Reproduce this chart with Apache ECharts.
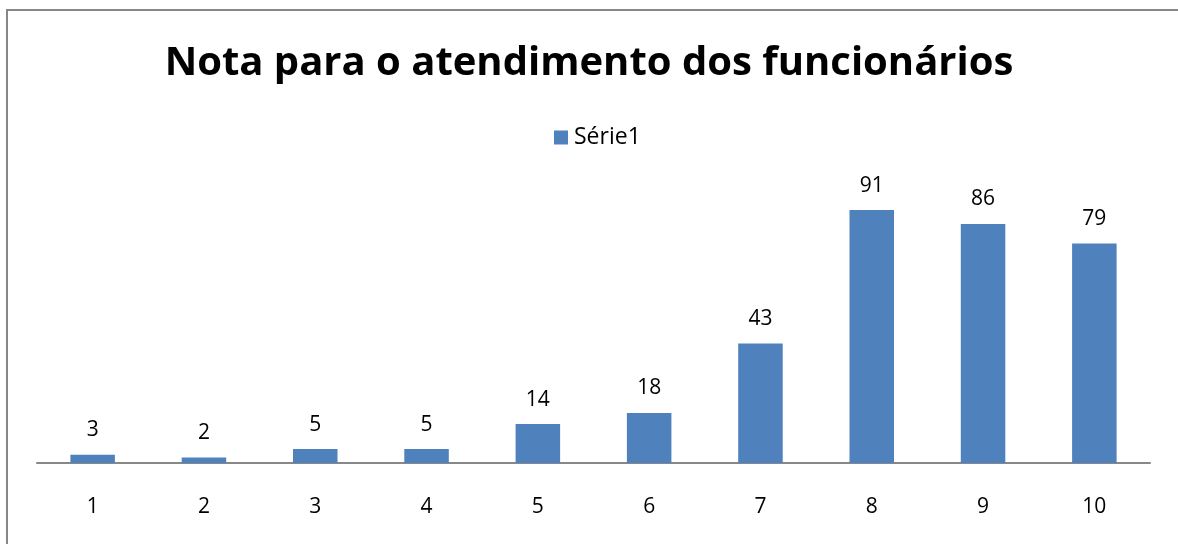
<!DOCTYPE html>
<html><head><meta charset="utf-8">
<script src="https://cdn.jsdelivr.net/npm/echarts@6/dist/echarts.min.js"></script>
<style>html,body{margin:0;padding:0;background:#fff}#c{width:1178px;height:544px}</style>
</head><body><div id="c"></div>
<script>
const titleText = 'Nota para o atendimento dos funcionários';
const seriesName = 'Série1';
const categories = ['1','2','3','4','5','6','7','8','9','10'];
const values = [3,2,5,5,14,18,43,91,86,79];

const chart = echarts.init(document.getElementById('c'));
chart.setOption({
  animation: false,
  backgroundColor: '#fff',
  textStyle: { fontFamily: 'Open Sans' },
  graphic: [{
    type: 'rect', silent: true,
    shape: { x: 7, y: 10, width: 1300, height: 700 },
    style: { fill: 'none', stroke: '#878787', lineWidth: 2 }
  }],
  title: {
    text: titleText, left: 'center', top: 39,
    textStyle: { fontFamily: 'Open Sans', fontWeight: 'bold', fontSize: 40, color: '#000' }
  },
  legend: {
    data: [seriesName], top: 121, left: 549,
    icon: 'rect', itemWidth: 14, itemHeight: 14, itemGap: 6,
    textStyle: { fontFamily: 'Open Sans', fontSize: 23, color: '#000', padding: [0, 0, 0, 1] }
  },
  grid: { left: 37, right: 28, top: 185, bottom: 81, containLabel: false },
  xAxis: {
    type: 'category', data: categories,
    axisLine: { lineStyle: { color: '#888', width: 2 } },
    axisTick: { show: false },
    axisLabel: { margin: 34, fontSize: 21, color: '#000', fontFamily: 'Open Sans' }
  },
  yAxis: { type: 'value', min: 0, max: 100, show: false, splitLine: { show: false } },
  series: [{
    name: seriesName, type: 'bar', data: values, barWidth: '40%',
    itemStyle: { color: '#4F81BD' },
    label: { show: true, position: 'top', distance: 14, fontSize: 21, color: '#000', fontFamily: 'Open Sans' }
  }]
});
</script></body></html>
